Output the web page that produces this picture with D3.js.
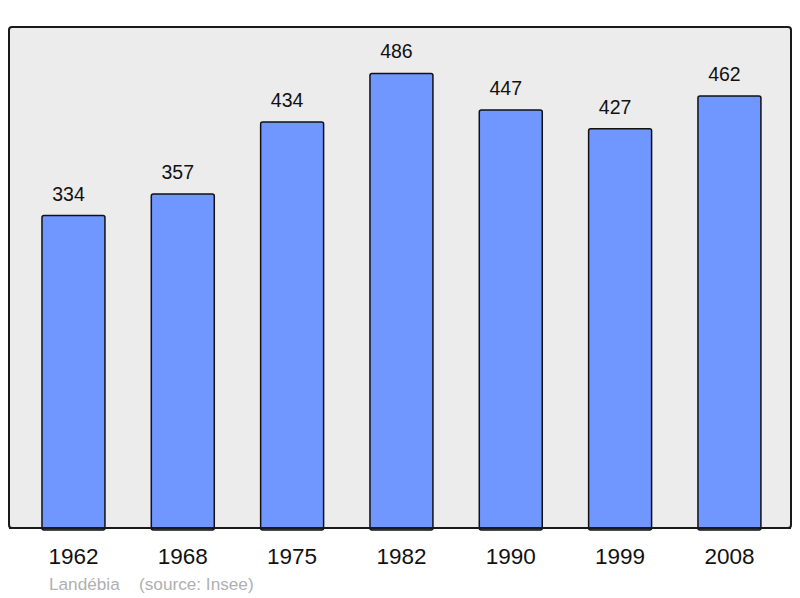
<!DOCTYPE html>
<html><head><meta charset="utf-8">
<script src="https://cdn.jsdelivr.net/npm/d3@7"></script>
<style>body{margin:0;background:#fff}svg{display:block}</style>
</head><body>
<script>
const years = ["1962","1968","1975","1982","1990","1999","2008"];
const population = [334,357,434,486,447,427,462];
const place = "Landébia";
const source = "(source: Insee)";

const W = 800, H = 598;
const svg = d3.select("body").append("svg").attr("width", W).attr("height", H);
const panel = {x0: 9, x1: 791, y0: 27, y1: 528};

svg.append("rect").attr("x", panel.x0).attr("y", panel.y0)
  .attr("width", panel.x1 - panel.x0).attr("height", panel.y1 - panel.y0)
  .attr("rx", 3).attr("fill", "#ececec").attr("stroke", "#1a1a1a").attr("stroke-width", 2);

const x = d3.scaleBand().domain(years).range([18.8, 784.1]).paddingInner(0.424).paddingOuter(0.212);
const y = d3.scaleLinear().domain([0, d3.max(population) * 1.1]).range([panel.y1, panel.y0 + 1]);

const data = years.map((yr, i) => ({yr, v: population[i]}));

svg.selectAll("rect.bar").data(data).join("rect").attr("class", "bar")
  .attr("x", d => x(d.yr)).attr("y", d => y(d.v))
  .attr("width", x.bandwidth()).attr("height", d => panel.y1 - y(d.v) + 2)
  .attr("rx", 2).attr("fill", "#7096ff").attr("stroke", "#111").attr("stroke-width", 1.5);

svg.append("line").attr("x1", panel.x0).attr("x2", panel.x1).attr("y1", panel.y1).attr("y2", panel.y1)
  .attr("stroke", "#1a1a1a").attr("stroke-width", 2);

svg.selectAll("text.val").data(data).join("text").attr("class", "val")
  .attr("x", d => x(d.yr) + x.bandwidth() / 2 - 5).attr("y", d => y(d.v) - 15)
  .attr("text-anchor", "middle").attr("font-family", "Liberation Sans, Arial, sans-serif")
  .attr("font-size", 19.5).attr("fill", "#111").text(d => d.v);

svg.selectAll("text.yr").data(years).join("text").attr("class", "yr")
  .attr("x", d => x(d) + x.bandwidth() / 2).attr("y", 564)
  .attr("text-anchor", "middle").attr("font-family", "Liberation Sans, Arial, sans-serif")
  .attr("font-size", 22.5).attr("fill", "#111").text(d => d);

svg.append("text").attr("x", 49).attr("y", 590).attr("font-family", "Liberation Sans, Arial, sans-serif")
  .attr("font-size", 17.2).attr("fill", "#b0b0b0").text(place);
svg.append("text").attr("x", 139).attr("y", 590).attr("font-family", "Liberation Sans, Arial, sans-serif")
  .attr("font-size", 17.2).attr("fill", "#b0b0b0").text(source);
</script>
</body></html>
